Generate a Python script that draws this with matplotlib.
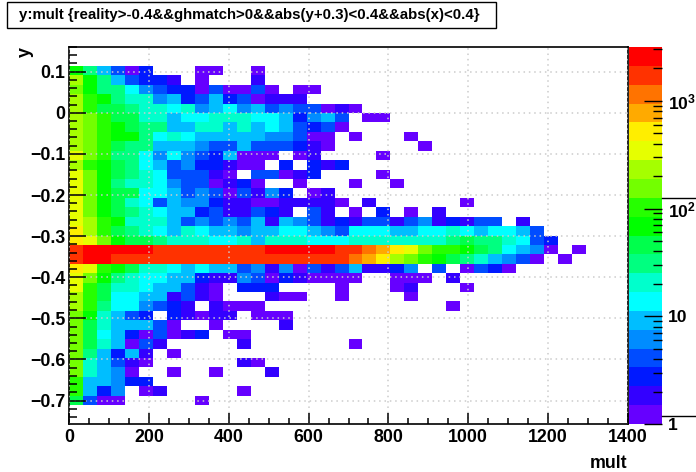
import numpy as np
import matplotlib
matplotlib.use('Agg')
import matplotlib.pyplot as plt
from matplotlib.colors import ListedColormap, BoundaryNorm
from matplotlib.lines import Line2D
from matplotlib.patches import Rectangle
from matplotlib.ticker import MultipleLocator, LogLocator, NullFormatter

plt.rcParams['font.family'] = ['Liberation Sans', 'DejaVu Sans']
plt.rcParams['font.weight'] = 'bold'
plt.rcParams['mathtext.fontset'] = 'custom'
plt.rcParams['mathtext.bf'] = 'Liberation Sans:bold'
plt.rcParams['mathtext.rm'] = 'Liberation Sans:bold'
plt.rcParams['mathtext.default'] = 'bf'

title = 'y:mult {reality>-0.4&&ghmatch>0&&abs(y+0.3)<0.4&&abs(x)<0.4}'

# palette, lowest band first
band_colors = ['#6600ff', '#3300ff', '#0019ff', '#004cff', '#008cff',
               '#00beff', '#00ffff', '#00ffcc', '#00ff80', '#00ff4c',
               '#00ff00', '#26ff00', '#73ff00', '#a5ff00', '#e6ff00',
               '#ffee00', '#ffaa00', '#ff7300', '#ff3200', '#ff0000']

# colour band of each cell (0 = empty), top row first
cell_band = [
    [11, 9, 6, 4, 1, 3, 0, 0, 0, 1, 1, 0, 0, 1],
    [14, 11, 9, 6, 4, 3, 3, 2, 0, 1, 0, 0, 0, 2],
    [13, 11, 9, 9, 7, 5, 4, 3, 3, 1, 4, 1, 1, 4, 1, 0, 1, 1],
    [14, 12, 11, 9, 8, 8, 5, 6, 3, 4, 6, 3, 4, 1, 2, 2, 2],
    [14, 12, 10, 10, 9, 8, 8, 7, 8, 5, 6, 7, 5, 6, 4, 5, 4, 4, 1, 2, 1],
    [14, 13, 12, 10, 10, 8, 8, 6, 7, 7, 8, 8, 8, 7, 7, 6, 3, 5, 6, 4, 0, 1, 1],
    [14, 13, 12, 11, 10, 9, 9, 6, 6, 8, 8, 6, 8, 6, 7, 6, 4, 3, 4, 1],
    [14, 13, 12, 11, 11, 9, 7, 8, 7, 6, 6, 6, 6, 6, 5, 5, 4, 1, 1, 0, 1, 0, 0, 0, 1],
    [14, 13, 12, 10, 9, 9, 6, 6, 6, 5, 4, 4, 6, 4, 4, 4, 3, 2, 1, 0, 0, 0, 0, 0, 0, 1],
    [15, 13, 12, 9, 9, 7, 5, 7, 5, 4, 3, 6, 1, 1, 1, 0, 1, 2, 0, 0, 0, 0, 1],
    [14, 12, 11, 10, 9, 7, 6, 4, 5, 3, 3, 2, 1, 1, 0, 3, 0, 3, 2, 3],
    [15, 13, 11, 10, 9, 8, 7, 4, 4, 4, 2, 1, 0, 4, 4, 1, 2, 3, 0, 0, 0, 0, 1],
    [15, 13, 11, 9, 8, 8, 7, 5, 4, 4, 1, 2, 3, 1, 0, 0, 1, 0, 0, 0, 1, 0, 0, 1],
    [15, 13, 11, 10, 10, 7, 7, 6, 4, 5, 4, 1, 4, 2, 5, 3, 0, 1, 2],
    [15, 13, 11, 10, 8, 7, 4, 6, 5, 5, 3, 2, 2, 1, 1, 2, 2, 2, 2, 1, 0, 2, 0, 0, 0, 0, 0, 0, 1],
    [15, 13, 11, 10, 9, 8, 7, 6, 6, 3, 4, 2, 2, 4, 3, 2, 0, 4, 2, 0, 1, 0, 3, 0, 1, 0, 2],
    [15, 14, 12, 11, 8, 8, 8, 6, 4, 5, 4, 5, 4, 6, 2, 6, 5, 4, 2, 3, 2, 4, 4, 2, 4, 5, 2, 3, 2, 4, 4, 0, 2],
    [16, 14, 12, 10, 9, 8, 7, 6, 8, 7, 6, 6, 5, 6, 6, 7, 7, 6, 5, 4, 7, 7, 7, 6, 6, 7, 7, 8, 7, 6, 7, 7, 6, 4],
    [16, 15, 13, 11, 10, 10, 9, 8, 8, 8, 7, 7, 8, 6, 8, 8, 8, 7, 7, 7, 8, 8, 8, 8, 8, 8, 8, 9, 10, 9, 9, 8, 7, 4, 3],
    [19, 20, 20, 20, 20, 20, 19, 19, 19, 19, 19, 19, 19, 19, 20, 20, 20, 20, 20, 19, 19, 18, 17, 16, 15, 13, 12, 12, 11, 10, 9, 7, 6, 5, 1, 0, 1],
    [19, 20, 20, 19, 19, 19, 19, 19, 19, 19, 19, 19, 19, 19, 19, 19, 19, 19, 19, 19, 18, 17, 16, 14, 13, 12, 11, 10, 9, 8, 6, 5, 4, 1, 0, 1],
    [16, 15, 12, 11, 10, 8, 8, 7, 6, 7, 6, 6, 4, 5, 2, 5, 1, 4, 2, 4, 6, 2, 2, 3, 5, 0, 4, 0, 1, 4, 3, 1],
    [15, 13, 11, 9, 8, 7, 7, 6, 6, 3, 2, 2, 5, 4, 1, 3, 2, 1, 1, 1, 1, 0, 0, 1, 1, 1, 0, 2],
    [15, 12, 10, 8, 8, 7, 6, 6, 4, 2, 1, 0, 3, 3, 3, 0, 0, 0, 0, 1, 0, 0, 0, 1, 2, 0, 0, 0, 1],
    [14, 12, 10, 7, 7, 6, 6, 2, 4, 2, 1, 0, 0, 0, 2, 1, 1, 0, 0, 1, 0, 0, 0, 0, 1],
    [14, 12, 9, 7, 7, 5, 4, 3, 2, 0, 2, 1, 1, 1, 0, 0, 0, 0, 0, 0, 0, 0, 0, 0, 0, 0, 0, 1],
    [13, 11, 8, 6, 4, 3, 0, 3, 2, 1, 2, 2, 0, 1, 1, 1],
    [13, 10, 8, 6, 6, 6, 4, 1, 0, 0, 1, 0, 0, 0, 0, 2],
    [13, 10, 7, 6, 3, 1, 4, 1, 2, 3, 0, 1, 1],
    [13, 10, 8, 6, 1, 4, 2, 0, 0, 0, 0, 0, 2, 0, 0, 0, 0, 0, 0, 0, 1],
    [13, 9, 6, 3, 6, 2, 0, 1],
    [13, 8, 6, 4, 2, 1, 0, 0, 0, 0, 0, 0, 2, 1],
    [13, 8, 6, 5, 1, 0, 0, 1, 0, 0, 1, 0, 0, 0, 2],
    [12, 6, 6, 5, 3, 3],
    [12, 6, 3, 5, 0, 1, 2, 0, 0, 0, 0, 0, 1],
    [10, 4, 1, 1, 0, 0, 0, 0, 0, 1],
]

x_ticks = [0, 200, 400, 600, 800, 1000, 1200, 1400]
y_ticks = [-0.7, -0.6, -0.5, -0.4, -0.3, -0.2, -0.1, 0, 0.1]
x_lim = (0, 1400)
y_lim = (-0.757, 0.160)
z_lim = (1, 3162)
n_bins = 40

W, H = 696, 472
fig = plt.figure(figsize=(W / 100, H / 100), dpi=100)
ax = fig.add_axes([69 / W, 1 - 424 / H, 559 / W, 377 / H])

# pad the rows out to the full 40x40 histogram
z = np.zeros((n_bins, n_bins), dtype=int)
for r, row in enumerate(cell_band):
    z[n_bins - 3 - r, :len(row)] = row
z = np.ma.masked_equal(z, 0)

x_edges = np.linspace(x_lim[0], x_lim[1], n_bins + 1)
y_edges = np.linspace(y_lim[0], y_lim[1], n_bins + 1)
cmap = ListedColormap(band_colors)
norm = BoundaryNorm(np.arange(0.5, 21), cmap.N)
ax.pcolormesh(x_edges, y_edges, z, cmap=cmap, norm=norm, linewidth=0, rasterized=True)

ax.set_xlim(x_lim)
ax.set_ylim(y_lim)
ax.set_xticks(x_ticks)
ax.set_yticks(y_ticks)
ax.set_yticklabels(['\u2212%.1f' % abs(v) if v < 0 else ('0' if v == 0 else '%.1f' % v) for v in y_ticks])
ax.xaxis.set_minor_locator(MultipleLocator(50))
ax.yaxis.set_minor_locator(MultipleLocator(0.02))
ax.tick_params(axis='x', which='major', direction='in', length=8, width=1.1, labelsize=12.8, pad=3.5)
ax.tick_params(axis='x', which='minor', direction='in', length=4, width=1.1)
ax.tick_params(axis='y', which='major', direction='in', length=12, width=1.1, labelsize=12.8, pad=2.5)
ax.tick_params(axis='y', which='minor', direction='in', length=6, width=1.1)
ax.grid(True, which='major', color='#cccccc', linestyle=(0, (1, 2.5)), linewidth=1.1)
ax.set_axisbelow(False)
for side in ax.spines:
    ax.spines[side].set_linewidth(1.2)

fig.text(627 / W, 1 - 463 / H, 'mult', ha='right', va='center', fontsize=12.8)
fig.text(25 / W, 1 - 52 / H, 'y', ha='center', va='center', rotation=90, fontsize=13)

# palette axis
cax = fig.add_axes([629 / W, 1 - 424 / H, 33 / W, 377 / H])
z_bounds = np.logspace(np.log10(z_lim[0]), np.log10(z_lim[1]), 21)
cax.pcolormesh([0, 1], z_bounds, np.arange(1, 21).reshape(-1, 1), cmap=cmap, norm=norm, linewidth=0)
cax.set_yscale('log')
cax.set_ylim(z_lim)
cax.set_xlim(0, 1)
cax.set_xticks([])
cax.yaxis.tick_right()
cax.yaxis.set_minor_locator(LogLocator(base=10, subs=np.arange(2, 10), numticks=12))
cax.yaxis.set_minor_formatter(NullFormatter())
cax.set_yticks([1, 10, 100, 1000])
cax.set_yticklabels(['1', '10', r'$\mathbf{10^{2}}$', r'$\mathbf{10^{3}}$'])
cax.tick_params(axis='y', which='major', direction='in', length=13, width=1, labelsize=12.6, pad=4.5)
cax.tick_params(axis='y', which='minor', direction='in', length=6.5, width=1)
for side in cax.spines:
    cax.spines[side].set_visible(False)

# stray frame ticks on the right of the palette
for py in (198, 416):
    fig.add_artist(Line2D([662 / W, 1], [1 - py / H, 1 - py / H], color='black', lw=1))

# title box
fig.add_artist(Rectangle((6.5 / W, 1 - 28 / H), 490 / W, 26 / H, transform=fig.transFigure,
                         facecolor='white', edgecolor='black', lw=1))
fig.text(249.5 / W, 1 - 15 / H, title, ha='center', va='center', fontsize=10.8)

fig.savefig('out.png', dpi=100)
